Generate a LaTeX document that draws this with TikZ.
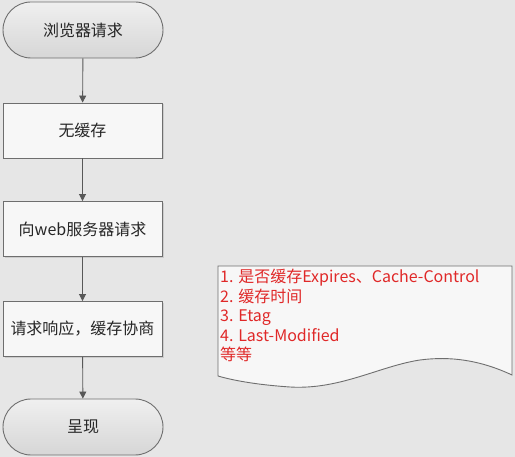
\documentclass[tikz,border=0pt]{standalone}
\usepackage{fontspec}
\setmainfont{Noto Sans CJK SC}
\usetikzlibrary{shapes.misc,shadows,arrows.meta}
\definecolor{bg}{HTML}{E6E6E6}
\definecolor{edge}{HTML}{6E6E6E}
\definecolor{redtxt}{HTML}{E02828}
\tikzset{
  term/.style={rounded rectangle, draw=edge, line width=0.9pt, minimum width=160pt, minimum height=56pt,
    top color=gray!12, bottom color=gray!32, font=\fontsize{16}{19}\selectfont, text=black!85, inner sep=0pt},
  procbox/.style={rectangle, draw=edge, line width=0.9pt, minimum width=159pt, minimum height=55pt,
    fill=white!97!black, font=\fontsize{16}{19}\selectfont, text=black!85, inner sep=0pt,
    drop shadow={shadow xshift=1.5pt, shadow yshift=-1.5pt, opacity=0.25}},
  flow/.style={draw=edge!80!black, line width=0.9pt, -{Triangle[length=7pt,width=7pt]}},
}
\begin{document}
\begin{tikzpicture}[x=1pt,y=1pt]
\fill[bg] (0,0) rectangle (515,-457);
\useasboundingbox (0,0) rectangle (515,-457);
\begin{scope}
\clip (0,0) rectangle (515,-457);
\node[term] (n1) at (83,-30) {浏览器请求};
\node[procbox] (n2) at (82.5,-130.5) {无缓存};
\node[procbox] (n3) at (82.5,-229) {向web服务器请求};
\node[procbox] (n4) at (82.5,-329) {请求响应，缓存协商};
\node[term] (n5) at (83,-427) {呈现};
\draw[flow] (n1) -- (n2);
\draw[flow] (n2) -- (n3);
\draw[flow] (n3) -- (n4);
\draw[flow] (n4) -- (n5);
\draw[draw=edge, line width=0.9pt, fill=white!97!black]
  (218,-266) -- (512,-266) -- (512,-375)
  .. controls (480,-360) and (450,-356) .. (420,-360)
  .. controls (380,-366) and (340,-390) .. (290,-387)
  .. controls (260,-385) and (235,-381) .. (218,-376) -- cycle;
\node[anchor=north west, align=left, text=redtxt, font=\fontsize{16}{19.5}\selectfont, inner sep=0pt] (note) at (220,-269)
  {1. 是否缓存Expires、Cache-Control\\2. 缓存时间\\3. Etag\\4. Last-Modified\\等等};
\end{scope}
\end{tikzpicture}
\end{document}
